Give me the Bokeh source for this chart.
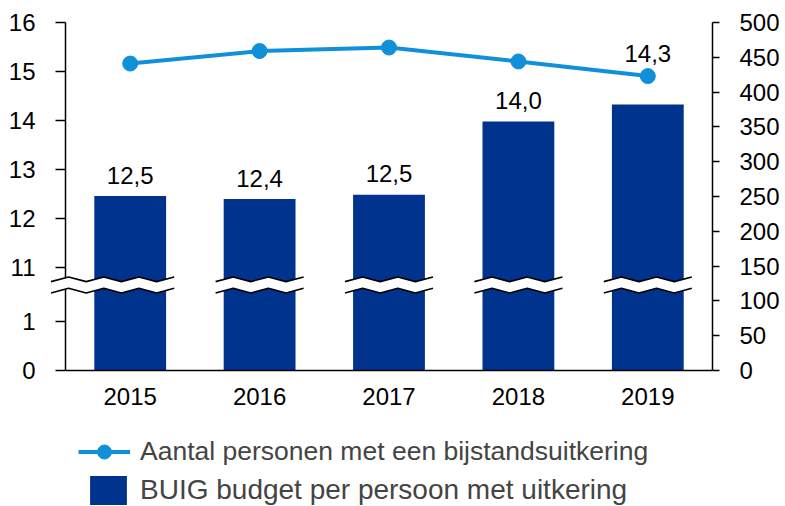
from bokeh.plotting import figure
from bokeh.models import (Range1d, FactorRange, LinearAxis, FixedTicker, Legend,
                          LegendItem, ColumnDataSource)
from bokeh.embed import file_html
from bokeh.resources import INLINE
from bokeh.core.properties import value

# ---------------- data ----------------
years = ["2015", "2016", "2017", "2018", "2019"]
budget = [12.46, 12.40, 12.49, 13.98, 14.33]        # BUIG budget per persoon (left axis)
persons = [441, 459, 464, 444, 423]                  # aantal personen (right axis)
left_ticks = [0, 1, 11, 12, 13, 14, 15, 16]
right_ticks = [0, 50, 100, 150, 200, 250, 300, 350, 400, 450, 500]
line_name = "Aantal personen met een bijstandsuitkering"
bar_name = "BUIG budget per persoon met uitkering"

# ---------------- style ----------------
NAVY = "#00338D"
BLUE = "#1190DA"
FONT = "Liberation Sans"
FS = "24px"

W, H = 785, 506
TOP, LEFT, RIGHT = 22, 65, 73
AXIS_PX = 348                  # height of the value axes in pixels
FRAME_PX = H - TOP             # frame reaches the bottom (room for legend)

# broken left axis: 0..1 below the break, 11..16 above it
UNIT = 1000
LOW_MAX = 1
HIGH_MIN = 11
GAP = 1096


def to_virtual(v):
    if v <= LOW_MAX:
        return round(v * UNIT)
    return round(LOW_MAX * UNIT + GAP + (v - HIGH_MIN) * UNIT)


top_virtual = to_virtual(left_ticks[-1])
ext = (FRAME_PX - AXIS_PX) / AXIS_PX

p = figure(width=W, height=H, x_range=FactorRange(factors=years),
           y_range=Range1d(-top_virtual * ext, top_virtual), output_backend="svg",
           toolbar_location=None, title=None,
           min_border_left=LEFT, min_border_right=RIGHT, min_border_top=TOP,
           min_border_bottom=0)
p.extra_y_ranges = {"right": Range1d(-right_ticks[-1] * ext, right_ticks[-1])}
p.outline_line_color = None
p.grid.visible = False
p.background_fill_color = "white"

# bars
labels = [f"{round(v, 1):.1f}".replace(".", ",") for v in budget]
label_offsets = [-21, -21, -21, -21, -51]
src = ColumnDataSource(dict(year=years, top=[to_virtual(v) for v in budget],
                            label=labels, off=label_offsets))
bars = p.vbar(x="year", top="top", bottom=0, width=0.555, source=src,
              fill_color=NAVY, line_color=None)

# break marks across every bar
half = 0.34
step = 2 * half / 5
up_lo, up_hi = 1812, 1907
lo_lo, lo_hi = 1582, 1677
patch_xs, patch_ys, line_xs, line_ys = [], [], [], []
for i in range(len(years)):
    c = i + 0.5
    nseg = 7 if i == 0 else 5
    xs = [c + half - k * step for k in range(nseg + 1)][::-1]
    hi_flags = [((nseg - k) % 2 == 0) for k in range(nseg + 1)]
    yu = [up_hi if f else up_lo for f in hi_flags]
    yl = [lo_hi if f else lo_lo for f in hi_flags]
    patch_xs.append(xs + xs[::-1])
    patch_ys.append(yu + yl[::-1])
    line_xs += [xs, xs]
    line_ys += [yu, yl]
p.patches(patch_xs, patch_ys, fill_color="white", line_color=None, level="overlay")
p.multi_line(line_xs, line_ys, line_color="black", line_width=1.6, level="overlay")

# line on right axis
ln = p.line(years, persons, y_range_name="right", line_color=BLUE, line_width=4)
sc = p.scatter(years, persons, y_range_name="right", size=15, fill_color=BLUE,
               line_color=BLUE)

# data labels
p.text(x="year", y="top", text="label", y_offset="off", source=src,
       text_align="center", text_baseline="alphabetic",
       text_font=value(FONT), text_font_size=FS, text_color="black")

# axes
ya = p.yaxis[0]
ya.ticker = FixedTicker(ticks=[to_virtual(t) for t in left_ticks])
ya.major_label_overrides = {to_virtual(t): str(t) for t in left_ticks}
ya.bounds = (0, top_virtual)
ya.minor_tick_line_color = None
ya.major_tick_in = 0
ya.major_tick_out = 10
ya.major_label_standoff = 20

xa = p.xaxis[0]
xa.fixed_location = 0
xa.major_tick_in = 0
xa.major_tick_out = 0
xa.major_tick_line_color = None
xa.major_label_standoff = 17

ra = LinearAxis(y_range_name="right", ticker=FixedTicker(ticks=right_ticks))
ra.bounds = (0, right_ticks[-1])
ra.minor_tick_line_color = None
ra.major_tick_in = 0
ra.major_tick_out = 7
ra.major_label_standoff = 20
p.add_layout(ra, "right")

for ax in (ya, xa, ra):
    ax.axis_line_color = "black"
    ax.axis_line_width = 1.5
    ax.major_tick_line_width = 1.5
    ax.major_label_text_font = FONT
    ax.major_label_text_font_size = FS
    ax.major_label_text_color = "black"

# legends (inside the frame, below the axes)
leg1 = Legend(items=[LegendItem(label=line_name, renderers=[ln, sc])],
              location=(13, 37), glyph_width=52, glyph_height=35, label_height=35,
              label_standoff=10, padding=0, margin=0, spacing=0,
              border_line_color=None, background_fill_alpha=0,
              label_text_font=FONT, label_text_font_size="26.5px")
leg2 = Legend(items=[LegendItem(label=bar_name, renderers=[bars])],
              location=(20, -2), glyph_width=46, glyph_height=36, label_height=36,
              label_standoff=9, padding=0, margin=0, spacing=0,
              border_line_color=None, background_fill_alpha=0,
              label_text_font=FONT, label_text_font_size="28px")
p.add_layout(leg1)
p.add_layout(leg2)

open("out.html", "w").write(file_html(p, INLINE))
